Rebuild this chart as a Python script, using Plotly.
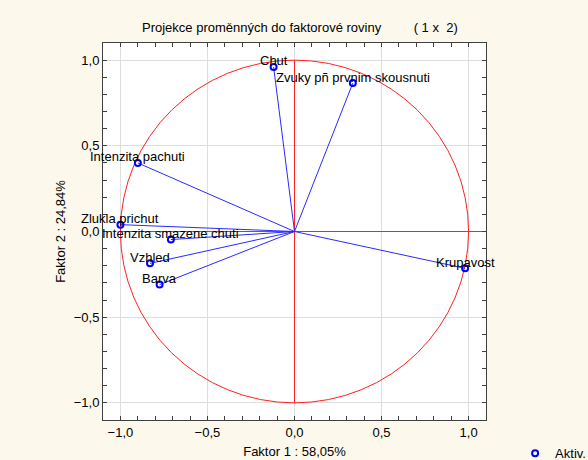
import plotly.graph_objects as go

labels = ["Chut", "Zvuky pñ prvnim skousnuti", "Intenzita pachuti", "Zlukla prichut",
          "Intenzita smazene chuti", "Vzhled", "Barva", "Krupavost"]
factor1 = [-0.12, 0.335, -0.90, -1.00, -0.71, -0.83, -0.775, 0.98]
factor2 = [0.96, 0.866, 0.40, 0.04, -0.047, -0.186, -0.31, -0.215]

title_text = "Projekce proměnných do faktorové roviny&nbsp;&nbsp;&nbsp;&nbsp;&nbsp;&nbsp;&nbsp;&nbsp;&nbsp;( 1 x&nbsp;&nbsp;2)"
x_title = "Faktor 1 : 58,05%"
y_title = "Faktor 2 : 24,84%"
legend_name = "Aktiv."

FONT = "Liberation Sans, Arial, sans-serif"
FS = 13

lx, ly = [], []
for a, b in zip(factor1, factor2):
    lx += [0, a, None]
    ly += [0, b, None]

fig = go.Figure()
fig.add_trace(go.Scatter(x=lx, y=ly, mode="lines", line=dict(color="#2a2aff", width=1),
                         showlegend=False, hoverinfo="skip"))
fig.add_trace(go.Scatter(x=factor1, y=factor2, mode="markers", name=legend_name,
                         marker=dict(symbol="circle-open", size=6, color="#0000ff",
                                     line=dict(width=2, color="#0000ff")),
                         text=labels, showlegend=True))

for a, b, t in zip(factor1, factor2, labels):
    fig.add_annotation(x=a, y=b, text=t, showarrow=False, yshift=6,
                       font=dict(family=FONT, size=FS, color="black"))

# unit circle and axes lines
red = dict(color="#ff2020", width=1)
fig.add_shape(type="circle", x0=-1, y0=-1, x1=1, y1=1, line=red, layer="between")
fig.add_shape(type="line", x0=-1, y0=0, x1=1.1, y1=0, line=red, layer="between")
fig.add_shape(type="line", x0=0, y0=-1, x1=0, y1=1, line=red, layer="between")

axis_common = dict(
    range=[-1.1, 1.1], dtick=0.5, tick0=0, tickformat=".1f", automargin=False,
    showgrid=True, gridcolor="#dedede", gridwidth=1, zeroline=False,
    showline=True, linecolor="#404040", linewidth=1, mirror="allticks",
    ticks="inside", ticklen=4, tickcolor="#404040",
    minor=dict(dtick=0.1, ticks="inside", ticklen=4, tickcolor="#404040", showgrid=False),
    tickfont=dict(family=FONT, size=FS, color="black"),
)

fig.update_layout(
    width=588, height=460,
    margin=dict(l=103, r=102, t=43, b=40, autoexpand=False),
    paper_bgcolor="#fdf8ec", plot_bgcolor="white",
    separators=", ",
    title=dict(text=title_text, x=0.51, xanchor="center", y=1 - 27 / 460, yanchor="middle",
               font=dict(family=FONT, size=FS, color="black"), automargin=False),
    xaxis=dict(**axis_common, title=dict(text=x_title, standoff=8,
                                         font=dict(family=FONT, size=FS, color="black"))),
    yaxis=dict(**axis_common, title=dict(text=y_title, standoff=5,
                                         font=dict(family=FONT, size=FS, color="black"))),
    legend=dict(x=1.076, y=-0.088, xanchor="left", yanchor="middle", bgcolor="rgba(0,0,0,0)",
                font=dict(family=FONT, size=FS, color="black"), itemwidth=30),
    font=dict(family=FONT),
)

fig.write_html("out.html", config={"displayModeBar": False},
               post_script="document.body.style.margin='0';document.body.style.overflow='hidden';")
